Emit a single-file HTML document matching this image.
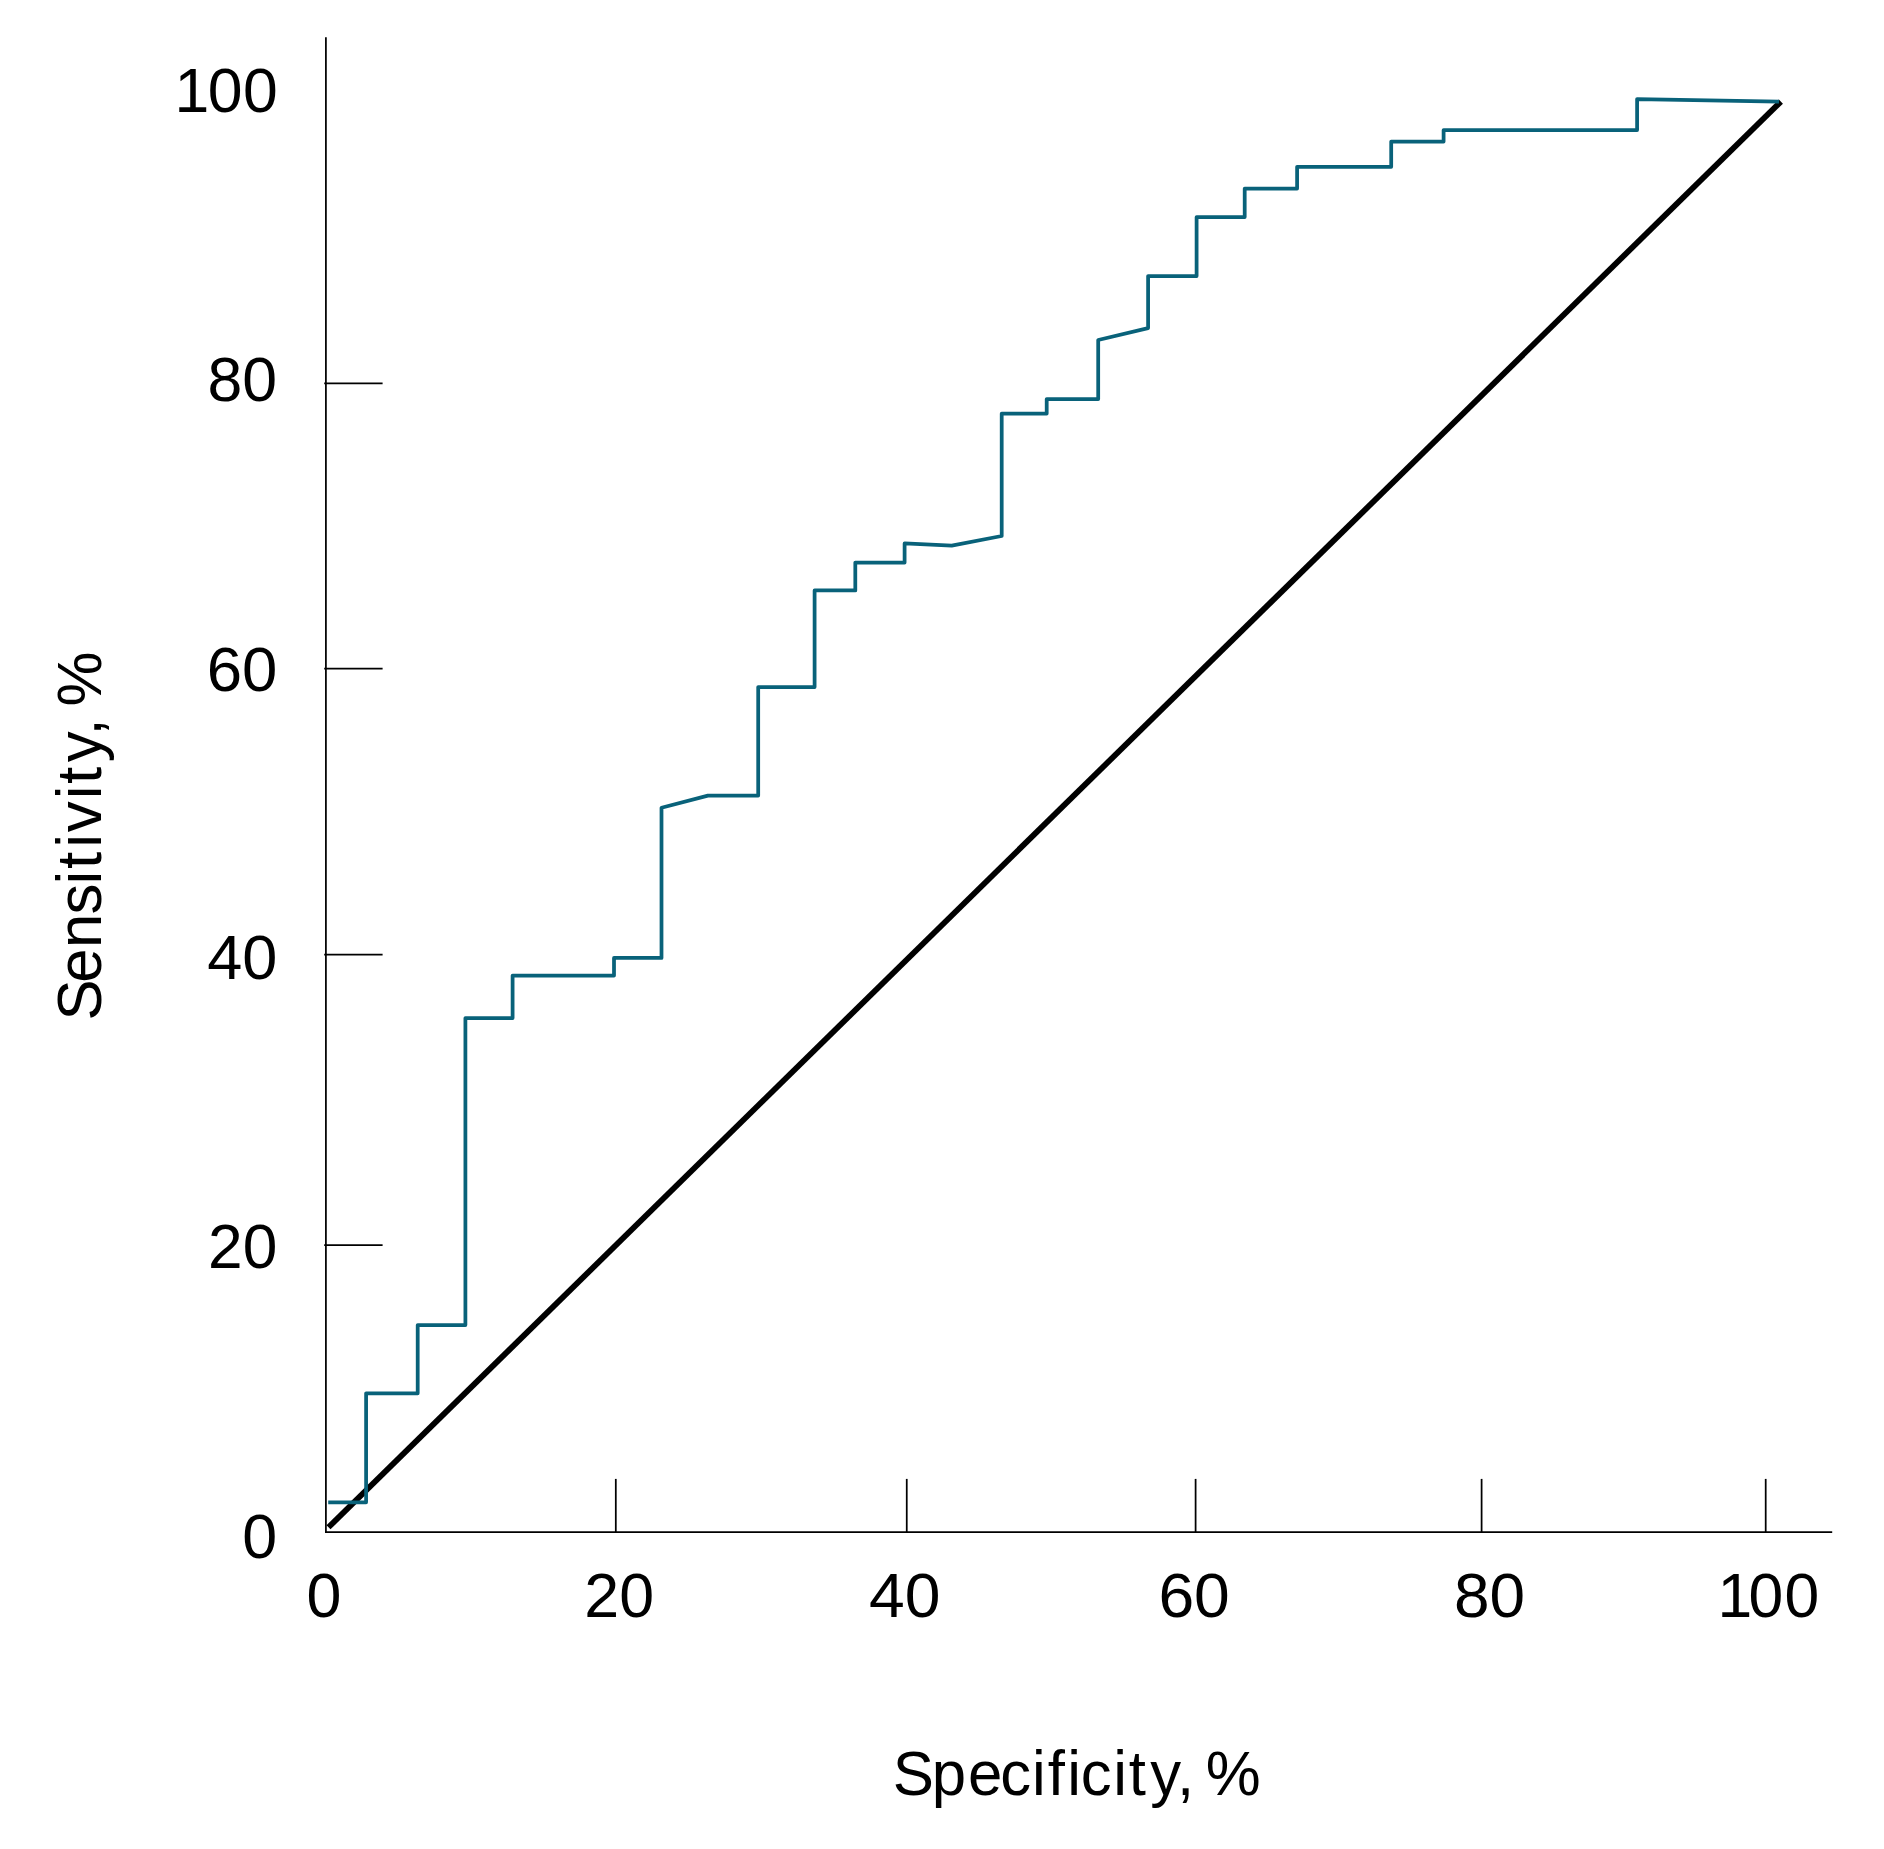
<!DOCTYPE html>
<html lang="en"><head><meta charset="utf-8"><title>ROC curve</title>
<style>html,body{margin:0;padding:0;background:#fff}body{width:1884px;height:1849px;overflow:hidden}svg{display:block}text{font-family:"Liberation Sans",sans-serif;fill:#000;font-variant-ligatures:none;font-kerning:none}</style></head><body>
<svg width="1884" height="1849" viewBox="0 0 1884 1849">
<rect width="1884" height="1849" fill="#fff"/>
<g stroke="#000" stroke-width="1.75" fill="none" stroke-linecap="butt">
<path d="M325.9 37.2 V1532.88"/>
<path d="M325.02 1532.0 H1832.2"/>
<path d="M324.2 383.25 H382.6"/>
<path d="M324.2 668.65 H382.6"/>
<path d="M324.2 954.6 H382.6"/>
<path d="M324.2 1245.2 H382.6"/>
<path d="M615.8 1478.9 V1532.0"/>
<path d="M906.75 1478.9 V1532.0"/>
<path d="M1195.6 1478.9 V1532.0"/>
<path d="M1481.6 1478.9 V1532.0"/>
<path d="M1765.7 1478.9 V1532.0"/>
</g>
<line x1="328.5" y1="1527.3" x2="1780.9" y2="101.6" stroke="#000" stroke-width="5.8"/>
<polyline fill="none" stroke="#09627a" stroke-width="3.75" stroke-linejoin="round" points="328.2,1502.3 366.1,1502.3 366.1,1393.3 417.7,1393.3 417.7,1325.0 465.4,1325.0 465.4,1018.0 512.6,1018.0 512.6,975.6 614.0,975.6 614.0,957.9 661.5,957.9 661.5,807.8 707.9,795.6 758.2,795.6 758.2,687.1 814.6,687.1 814.6,590.4 855.3,590.4 855.3,562.5 904.6,562.5 904.6,543.4 951.7,545.6 1001.7,536.0 1001.7,413.5 1046.7,413.5 1046.7,399.0 1098.2,399.0 1098.2,340.0 1148.1,328.1 1148.1,276.0 1196.6,276.0 1196.6,217.0 1244.7,217.0 1244.7,188.5 1297.1,188.5 1297.1,166.8 1391.2,166.8 1391.2,141.5 1443.6,141.5 1443.6,130.0 1637.1,130.0 1637.1,99.1 1779.0,101.6"/>
<text transform="translate(176.60 112.22) scale(1.0000 1.0125)" font-size="62.5" x="-2.13 31.07 66.47">100</text>
<text transform="translate(207.50 401.32) scale(1.0023 1.0193)" font-size="62.5">80</text>
<text transform="translate(206.75 690.80) scale(1.0162 1.0205)" font-size="62.5">60</text>
<text transform="translate(207.25 979.20) scale(1.0090 1.0114)" font-size="62.5">40</text>
<text transform="translate(208.05 1268.33) scale(0.9959 1.0193)" font-size="62.5">20</text>
<text transform="translate(242.30 1557.65) scale(1.0051 1.0205)" font-size="62.5">0</text>
<text transform="translate(306.40 1617.32) scale(1.0054 1.0125)" font-size="62.5">0</text>
<text transform="translate(584.30 1617.33) scale(1.0039 1.0193)" font-size="62.5">20</text>
<text transform="translate(869.05 1617.33) scale(1.0272 1.0194)" font-size="62.5">40</text>
<text transform="translate(1158.40 1617.33) scale(1.0271 1.0136)" font-size="62.5">60</text>
<text transform="translate(1453.90 1617.33) scale(1.0232 1.0193)" font-size="62.5">80</text>
<text transform="translate(1718.30 1617.33) scale(1.0000 1.0193)" font-size="62.5" x="-0.88 30.17 66.17">100</text>
<text transform="translate(897.65 1794.50) scale(0.9800 1.0000)" font-size="63" x="-4.97 34.83 71.73 104.61 137.00 153.15 173.17 186.85 220.01 235.95 257.86 284.97 302.48 314.49">Specificity, %</text>
<text transform="translate(101.25 1016.40) rotate(-90) scale(0.9800 1.0000)" font-size="63" x="-4.26 34.23 69.83 104.05 134.50 150.34 172.10 187.97 221.49 237.07 259.39 286.55 304.06 316.28">Sensitivity, %</text>
</svg></body></html>
